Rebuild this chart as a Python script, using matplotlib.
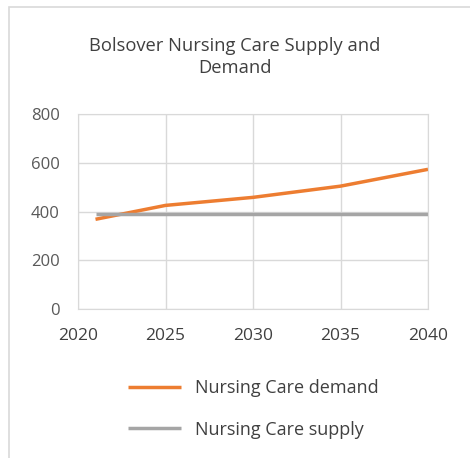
import matplotlib.pyplot as plt
from matplotlib.patches import Rectangle

# Chart values
years = [2021, 2025, 2030, 2035, 2040]
demand = [368, 425, 458, 504, 573]
supply = [388, 388, 388, 388, 388]

plt.rcParams['font.family'] = ['Open Sans', 'DejaVu Sans']

fig = plt.figure(figsize=(4.7, 4.58), dpi=100)
ax = fig.add_axes([78 / 470, 1 - 309 / 458, 350 / 470, 195 / 458])

# chart area border (cut off at right and bottom in the original)
fig.patches.append(Rectangle((9 / 470, -0.05), 1.2, 1 - 7 / 458 + 0.05,
                             transform=fig.transFigure, fill=False,
                             edgecolor='#d9d9d9', linewidth=1.2))

ax.plot(years, demand, color='#ED7D31', linewidth=2.5, label='Nursing Care demand',
        solid_capstyle='butt')
ax.plot(years, supply, color='#A5A5A5', linewidth=2.5, label='Nursing Care supply',
        solid_capstyle='butt')

ax.set_xlim(2020, 2040)
ax.set_ylim(0, 800)
ax.set_xticks(range(2020, 2041, 5))
ax.set_yticks(range(0, 801, 200))
ax.grid(True, color='#d9d9d9', linewidth=1)
ax.set_axisbelow(True)
for s in ax.spines.values():
    s.set_color('#d9d9d9')
ax.tick_params(axis='x', length=0, labelsize=12.5, labelcolor='#404040', pad=14)
ax.tick_params(axis='y', length=0, labelsize=12, labelcolor='#595959', pad=13)

fig.text(0.5, 1 - 57 / 458, 'Bolsover Nursing Care Supply and\nDemand', ha='center',
         va='center', fontsize=13.2, color='#404040', linespacing=1.25)

fig.legend(loc='center left', bbox_to_anchor=(112 / 470, 1 - 409 / 458), frameon=False,
           fontsize=13, handlelength=2.9, handletextpad=0.8, labelspacing=1.3,
           labelcolor='#404040')

fig.savefig('out.png', dpi=100)
